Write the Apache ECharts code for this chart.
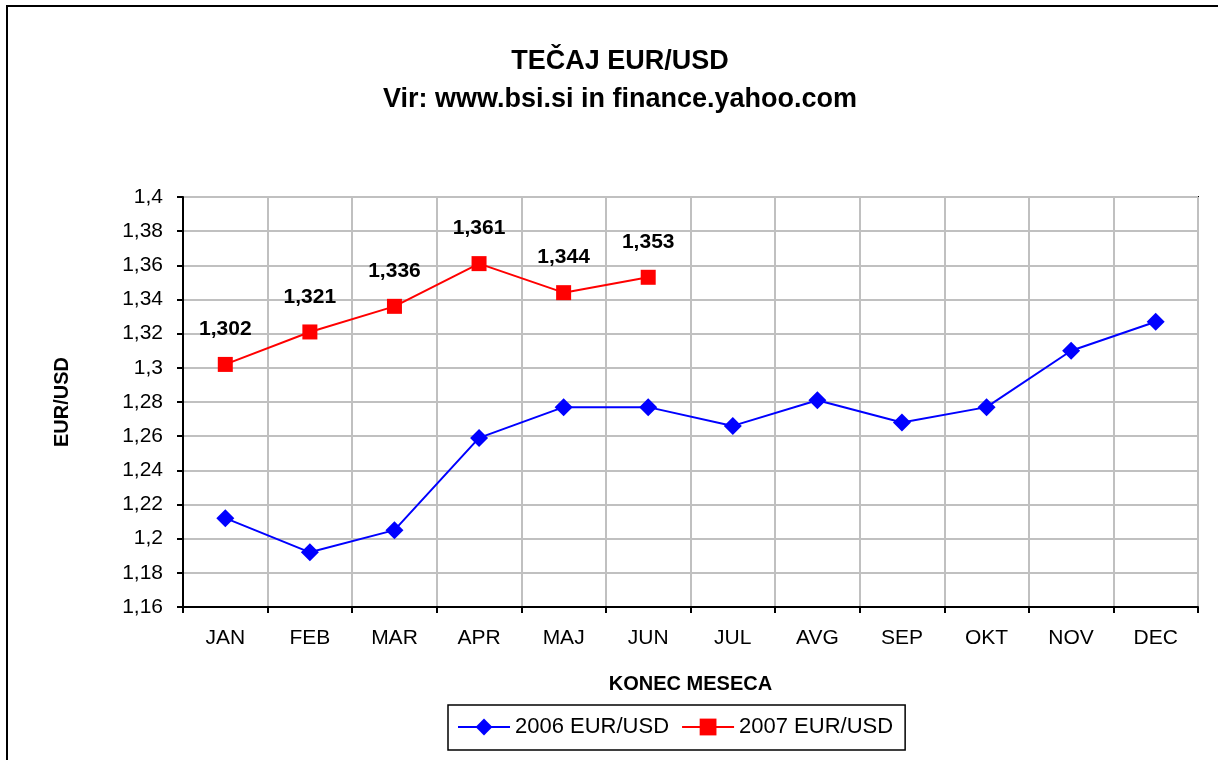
<!DOCTYPE html>
<html>
<head>
<meta charset="utf-8">
<script src="https://cdn.jsdelivr.net/npm/echarts@6/dist/echarts.min.js"></script>
<style>
  html, body { margin: 0; padding: 0; background: #fff; }
  #main { width: 1218px; height: 760px; }
</style>
</head>
<body>
<div id="main"></div>
<script>
// meseci
var months = ['JAN', 'FEB', 'MAR', 'APR', 'MAJ', 'JUN', 'JUL', 'AVG', 'SEP', 'OKT', 'NOV', 'DEC'];
// tecaj 2006
var rate2006 = [1.212, 1.192, 1.205, 1.259, 1.277, 1.277, 1.266, 1.281, 1.268, 1.277, 1.310, 1.327];
// tecaj 2007 (do junija)
var rate2007 = [1.302, 1.321, 1.336, 1.361, 1.344, 1.353];
var seriesNames = ['2006 EUR/USD', '2007 EUR/USD'];

var font = '"Liberation Sans", Arial, sans-serif';

function comma(v) {
    return String(Number(v.toFixed(3))).replace('.', ',');
}

var myChart = echarts.init(document.getElementById('main'));

var option = {
    backgroundColor: '#fff',
    animation: false,
    textStyle: { fontFamily: font, color: '#000' },
    graphic: [{
        type: 'rect',
        shape: { x: 7, y: 6, width: 1300, height: 900 },
        style: { fill: 'none', stroke: '#000', lineWidth: 2 },
        silent: true
    }],
    title: {
        text: 'TEČAJ EUR/USD',
        subtext: 'Vir: www.bsi.si in finance.yahoo.com',
        left: 615,
        top: 43,
        textAlign: 'center',
        itemGap: 11,
        textStyle: { fontFamily: font, fontSize: 27, fontWeight: 'bold', color: '#000' },
        subtextStyle: { fontFamily: font, fontSize: 27, fontWeight: 'bold', color: '#000' }
    },
    legend: {
        data: seriesNames,
        left: 448,
        top: 705,
        orient: 'horizontal',
        itemWidth: 52,
        itemHeight: 21,
        itemGap: 12,
        padding: [11, 12, 12, 9],
        borderColor: '#000',
        borderWidth: 1.5,
        textStyle: { fontFamily: font, fontSize: 22, color: '#000' }
    },
    grid: {
        left: 183,
        right: 20,
        top: 197,
        bottom: 153,
        show: true,
        borderColor: '#000',
        borderWidth: 2
    },
    xAxis: {
        type: 'category',
        data: months,
        boundaryGap: true,
        name: 'KONEC MESECA',
        nameLocation: 'middle',
        nameGap: 67,
        nameTextStyle: { fontFamily: font, fontSize: 20, fontWeight: 'bold', color: '#000' },
        axisLine: { lineStyle: { color: '#000', width: 2 } },
        axisTick: { show: true, length: 6, lineStyle: { color: '#000', width: 2 } },
        axisLabel: { fontFamily: font, fontSize: 21, color: '#000', margin: 21 },
        splitLine: { show: true, lineStyle: { color: '#c0c0c0', width: 2 } }
    },
    yAxis: {
        type: 'value',
        min: 1.16,
        max: 1.4,
        interval: 0.02,
        name: 'EUR/USD',
        nameLocation: 'middle',
        nameRotate: 90,
        nameGap: 111,
        nameTextStyle: { fontFamily: font, fontSize: 20, fontWeight: 'bold', color: '#000' },
        axisLine: { show: true, lineStyle: { color: '#000', width: 2 } },
        axisTick: { show: true, length: 6, lineStyle: { color: '#000', width: 2 } },
        axisLabel: {
            fontFamily: font, fontSize: 21, color: '#000', margin: 20,
            formatter: function (v) { return String(Number(v.toFixed(2))).replace('.', ','); }
        },
        splitLine: { show: true, lineStyle: { color: '#c0c0c0', width: 2 } }
    },
    series: [{
        name: seriesNames[0],
        type: 'line',
        data: rate2006,
        symbol: 'diamond',
        symbolSize: 18,
        color: '#0000ff',
        lineStyle: { color: '#0000ff', width: 2 },
        itemStyle: { color: '#0000ff' },
        z: 3
    }, {
        name: seriesNames[1],
        type: 'line',
        data: rate2007,
        symbol: 'rect',
        symbolSize: 15,
        color: '#ff0000',
        lineStyle: { color: '#ff0000', width: 2 },
        itemStyle: { color: '#ff0000' },
        label: {
            show: true,
            position: 'top',
            distance: 17,
            fontFamily: font,
            fontSize: 21,
            fontWeight: 'bold',
            color: '#000',
            formatter: function (p) { return comma(p.value); }
        },
        z: 4
    }]
};

myChart.setOption(option);
</script>
</body>
</html>
